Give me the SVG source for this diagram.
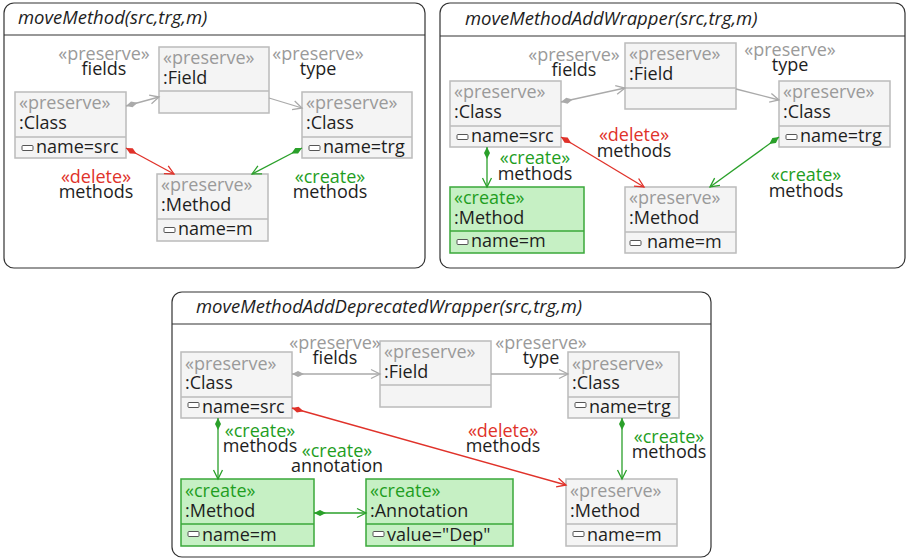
<svg xmlns="http://www.w3.org/2000/svg" width="907" height="559" viewBox="0 0 907 559">
  <style>
    text { font-family: "Open Sans", Lato, "Liberation Sans", sans-serif; font-size: 18px; fill: #1e1e1e; }
    .title { font-style: italic; font-size: 18.5px; }
    .frame { fill: #ffffff; stroke: #333333; stroke-width: 1.2; }
    .hdr { stroke: #333333; stroke-width: 1.2; }
    .box { fill: #f4f4f4; stroke: #bbbbbb; stroke-width: 1.5; }
    .boxc { fill: #c6f0c4; stroke: #3aa83a; stroke-width: 1.5; }
    .div { stroke: #bbbbbb; stroke-width: 1.5; }
    .divc { stroke: #3aa83a; stroke-width: 1.5; }
    .st { fill: #9a9a9a; }
    .stc { fill: #1f9e1f; }
    .std { fill: #e0322a; }
    .ico { fill: #ffffff; stroke: #555555; stroke-width: 1; }
    .mid { text-anchor: middle; }
    .cg { stroke: #aaaaaa; stroke-width: 1.3; fill: none; marker-start: url(#dg); marker-end: url(#ag); }
    .cgp { stroke: #aaaaaa; stroke-width: 1.3; fill: none; marker-end: url(#ag); }
    .cr { stroke: #e0322a; stroke-width: 1.3; fill: none; marker-start: url(#dr); marker-end: url(#ar); }
    .cc { stroke: #2aa02a; stroke-width: 1.3; fill: none; marker-start: url(#dc); marker-end: url(#ac); }
  </style>
  <defs>
    <marker id="dg" markerUnits="userSpaceOnUse" markerWidth="14" markerHeight="8" refX="0" refY="4" orient="auto" viewBox="0 0 14 8">
      <path d="M0,4 L6,1 L12,4 L6,7 z" fill="#aaaaaa"/>
    </marker>
    <marker id="dr" markerUnits="userSpaceOnUse" markerWidth="14" markerHeight="8" refX="0" refY="4" orient="auto" viewBox="0 0 14 8">
      <path d="M0,4 L6,1 L12,4 L6,7 z" fill="#e0322a"/>
    </marker>
    <marker id="dc" markerUnits="userSpaceOnUse" markerWidth="14" markerHeight="8" refX="0" refY="4" orient="auto" viewBox="0 0 14 8">
      <path d="M0,4 L6,1 L12,4 L6,7 z" fill="#2aa02a"/>
    </marker>
    <marker id="ag" markerUnits="userSpaceOnUse" markerWidth="12" markerHeight="12" refX="10" refY="6" orient="auto" viewBox="0 0 12 12">
      <path d="M1,1.5 L10,6 L1,10.5" fill="none" stroke="#aaaaaa" stroke-width="1.3"/>
    </marker>
    <marker id="ar" markerUnits="userSpaceOnUse" markerWidth="12" markerHeight="12" refX="10" refY="6" orient="auto" viewBox="0 0 12 12">
      <path d="M1,1.5 L10,6 L1,10.5" fill="none" stroke="#e0322a" stroke-width="1.3"/>
    </marker>
    <marker id="ac" markerUnits="userSpaceOnUse" markerWidth="12" markerHeight="12" refX="10" refY="6" orient="auto" viewBox="0 0 12 12">
      <path d="M1,1.5 L10,6 L1,10.5" fill="none" stroke="#2aa02a" stroke-width="1.3"/>
    </marker>
  </defs>

  <!-- ===== rule 1: moveMethod ===== -->
  <g id="rule-moveMethod">
    <rect class="frame" x="4" y="3" width="421" height="265" rx="10"/>
    <line class="hdr" x1="4" y1="35" x2="425" y2="35"/>
    <text class="title" x="18" y="24">moveMethod(src,trg,m)</text>
  </g>
  <g id="m1-field">
    <rect class="box" x="159" y="47" width="110" height="66"/>
    <line class="div" x1="159" y1="91" x2="269" y2="91"/>
    <text class="st" x="163" y="64">«preserve»</text>
    <text x="163" y="84">:Field</text>
  </g>
  <g id="m1-src">
    <rect class="box" x="15" y="92" width="111" height="66"/>
    <line class="div" x1="15" y1="137" x2="126" y2="137"/>
    <text class="st" x="19" y="109">«preserve»</text>
    <text x="19" y="129">:Class</text>
    <rect class="ico" x="22" y="145.5" width="11" height="5" rx="1"/>
    <text x="36" y="153">name=src</text>
  </g>
  <g id="m1-trg">
    <rect class="box" x="302" y="92" width="110" height="66"/>
    <line class="div" x1="302" y1="137" x2="412" y2="137"/>
    <text class="st" x="306" y="109">«preserve»</text>
    <text x="306" y="129">:Class</text>
    <rect class="ico" x="309" y="145.5" width="11" height="5" rx="1"/>
    <text x="323" y="153">name=trg</text>
  </g>
  <g id="m1-method">
    <rect class="box" x="157" y="174" width="111" height="67"/>
    <line class="div" x1="157" y1="219" x2="268" y2="219"/>
    <text class="st" x="161" y="191">«preserve»</text>
    <text x="161" y="211">:Method</text>
    <rect class="ico" x="164" y="227.5" width="11" height="5" rx="1"/>
    <text x="178" y="235">name=m</text>
  </g>
  <g id="m1-edges">
    <path class="cg" d="M126,106 L159,97"/>
    <path class="cgp" d="M269,98 L302,108"/>
    <path class="cr" d="M126,148 L174,174"/>
    <path class="cc" d="M302,148 L252,174"/>
    <text class="st mid" x="104" y="60">«preserve»</text>
    <text class="mid" x="104" y="75">fields</text>
    <text class="st mid" x="318" y="60">«preserve»</text>
    <text class="mid" x="318" y="75">type</text>
    <text class="std mid" x="96" y="183">«delete»</text>
    <text class="mid" x="96" y="198">methods</text>
    <text class="stc mid" x="330" y="183">«create»</text>
    <text class="mid" x="330" y="198">methods</text>
  </g>

  <!-- ===== rule 2: moveMethodAddWrapper ===== -->
  <g id="rule-moveMethodAddWrapper">
    <rect class="frame" x="440" y="3" width="465" height="265" rx="10"/>
    <line class="hdr" x1="440" y1="36" x2="905" y2="36"/>
    <text class="title" x="465" y="25">moveMethodAddWrapper(src,trg,m)</text>
  </g>
  <g id="m2-field">
    <rect class="box" x="625" y="43" width="111" height="66"/>
    <line class="div" x1="625" y1="88" x2="736" y2="88"/>
    <text class="st" x="629" y="60">«preserve»</text>
    <text x="629" y="80">:Field</text>
  </g>
  <g id="m2-src">
    <rect class="box" x="450" y="81" width="111" height="66"/>
    <line class="div" x1="450" y1="126" x2="561" y2="126"/>
    <text class="st" x="454" y="98">«preserve»</text>
    <text x="454" y="118">:Class</text>
    <rect class="ico" x="457" y="134.5" width="11" height="5" rx="1"/>
    <text x="471" y="142">name=src</text>
  </g>
  <g id="m2-trg">
    <rect class="box" x="779" y="81" width="111" height="66"/>
    <line class="div" x1="779" y1="126" x2="890" y2="126"/>
    <text class="st" x="783" y="98">«preserve»</text>
    <text x="783" y="118">:Class</text>
    <rect class="ico" x="786" y="134.5" width="11" height="5" rx="1"/>
    <text x="800" y="142">name=trg</text>
  </g>
  <g id="m2-newmethod">
    <rect class="boxc" x="450" y="187" width="134" height="66"/>
    <line class="divc" x1="450" y1="231" x2="584" y2="231"/>
    <text class="stc" x="454" y="204">«create»</text>
    <text x="454" y="224">:Method</text>
    <rect class="ico" x="457" y="239.5" width="11" height="5" rx="1"/>
    <text x="471" y="247">name=m</text>
  </g>
  <g id="m2-method">
    <rect class="box" x="625" y="187" width="111" height="66"/>
    <line class="div" x1="625" y1="232" x2="736" y2="232"/>
    <text class="st" x="629" y="204">«preserve»</text>
    <text x="629" y="224">:Method</text>
    <rect class="ico" x="630" y="240.5" width="11" height="5" rx="1"/>
    <text x="647" y="248">name=m</text>
  </g>
  <g id="m2-edges">
    <path class="cg" d="M561,102 L625,88"/>
    <path class="cgp" d="M736,89 L779,100"/>
    <path class="cc" d="M487,147 L487,187"/>
    <path class="cr" d="M561,137 L644,187"/>
    <path class="cc" d="M779,137 L710,187"/>
    <text class="st mid" x="574" y="61">«preserve»</text>
    <text class="mid" x="574" y="76">fields</text>
    <text class="st mid" x="790" y="56">«preserve»</text>
    <text class="mid" x="790" y="71">type</text>
    <text class="std mid" x="634" y="141">«delete»</text>
    <text class="mid" x="634" y="157">methods</text>
    <text class="stc mid" x="535" y="164">«create»</text>
    <text class="mid" x="535" y="180">methods</text>
    <text class="stc mid" x="806" y="181">«create»</text>
    <text class="mid" x="806" y="197">methods</text>
  </g>

  <!-- ===== rule 3: moveMethodAddDeprecatedWrapper ===== -->
  <g id="rule-moveMethodAddDeprecatedWrapper">
    <rect class="frame" x="172" y="292" width="539" height="265" rx="10"/>
    <line class="hdr" x1="172" y1="324" x2="711" y2="324"/>
    <text class="title" x="196" y="313">moveMethodAddDeprecatedWrapper(src,trg,m)</text>
  </g>
  <g id="m3-src">
    <rect class="box" x="181" y="352" width="111" height="66"/>
    <line class="div" x1="181" y1="397" x2="292" y2="397"/>
    <text class="st" x="185" y="370">«preserve»</text>
    <text x="185" y="389">:Class</text>
    <rect class="ico" x="188" y="402.5" width="11" height="5" rx="1"/>
    <text x="202" y="413">name=src</text>
  </g>
  <g id="m3-field">
    <rect class="box" x="380" y="341" width="111" height="66"/>
    <line class="div" x1="380" y1="385" x2="491" y2="385"/>
    <text class="st" x="384" y="358">«preserve»</text>
    <text x="384" y="378">:Field</text>
  </g>
  <g id="m3-trg">
    <rect class="box" x="568" y="352" width="111" height="66"/>
    <line class="div" x1="568" y1="397" x2="679" y2="397"/>
    <text class="st" x="572" y="370">«preserve»</text>
    <text x="572" y="389">:Class</text>
    <rect class="ico" x="575" y="402.5" width="11" height="5" rx="1"/>
    <text x="589" y="413">name=trg</text>
  </g>
  <g id="m3-newmethod">
    <rect class="boxc" x="181" y="479" width="133" height="67"/>
    <line class="divc" x1="181" y1="524" x2="314" y2="524"/>
    <text class="stc" x="185" y="497">«create»</text>
    <text x="185" y="517">:Method</text>
    <rect class="ico" x="188" y="531.5" width="11" height="5" rx="1"/>
    <text x="202" y="541">name=m</text>
  </g>
  <g id="m3-annotation">
    <rect class="boxc" x="366" y="479" width="147" height="67"/>
    <line class="divc" x1="366" y1="524" x2="513" y2="524"/>
    <text class="stc" x="370" y="497">«create»</text>
    <text x="370" y="517">:Annotation</text>
    <rect class="ico" x="373" y="531.5" width="11" height="5" rx="1"/>
    <text x="387" y="541">value="Dep"</text>
  </g>
  <g id="m3-method">
    <rect class="box" x="566" y="479" width="111" height="67"/>
    <line class="div" x1="566" y1="524" x2="677" y2="524"/>
    <text class="st" x="570" y="497">«preserve»</text>
    <text x="570" y="517">:Method</text>
    <rect class="ico" x="573" y="531.5" width="11" height="5" rx="1"/>
    <text x="587" y="541">name=m</text>
  </g>
  <g id="m3-edges">
    <path class="cg" d="M292,374 L380,374"/>
    <path class="cgp" d="M491,374 L568,374"/>
    <path class="cc" d="M218,418 L218,479"/>
    <path class="cr" d="M292,408 L566,485"/>
    <path class="cc" d="M622,418 L622,479"/>
    <path class="cc" d="M314,513 L366,513"/>
    <text class="st mid" x="335" y="349">«preserve»</text>
    <text class="mid" x="335" y="364">fields</text>
    <text class="st mid" x="541" y="349">«preserve»</text>
    <text class="mid" x="541" y="364">type</text>
    <text class="stc mid" x="260" y="437">«create»</text>
    <text class="mid" x="260" y="452">methods</text>
    <text class="stc mid" x="337" y="457">«create»</text>
    <text class="mid" x="337" y="472">annotation</text>
    <text class="std mid" x="503" y="437">«delete»</text>
    <text class="mid" x="503" y="452">methods</text>
    <text class="stc mid" x="669" y="443">«create»</text>
    <text class="mid" x="669" y="458">methods</text>
  </g>
</svg>
